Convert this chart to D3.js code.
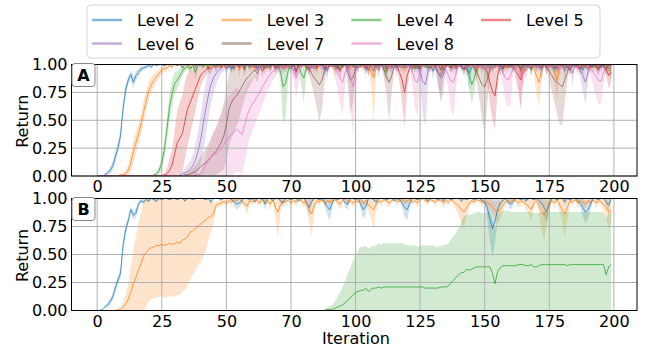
<!DOCTYPE html>
<html>
<head>
<meta charset="utf-8">
<title>return per iteration</title>
<style>
body { margin: 0; background: #fff; }
text { font-family: "DejaVu Sans", sans-serif; font-size: 16px; fill: #000; }
</style>
</head>
<body>
<svg width="647" height="348"></svg>
<script src="https://d3js.org/d3.v7.min.js"></script>
<script>
// tick values and their printed labels (the 75 tick really is labelled "70")
const xTicks = [0, 25, 50, 75, 100, 125, 150, 175, 200];
const xTickLabels = ["0", "25", "50", "70", "100", "125", "150", "175", "200"];
const yTicks = [0, 0.25, 0.5, 0.75, 1];
const levelNames = ["Level 2", "Level 3", "Level 4", "Level 5", "Level 6", "Level 7", "Level 8"];
const levelColors = ["#1f77b4", "#ff7f0e", "#2ca02c", "#d62728", "#9467bd", "#8c564b", "#e377c2"];

// ---- panel A: mean return and std per iteration ----
const a2Mean = [
0,0,0,0.01,0.03,0.05,0.09,0.17,0.25,0.36,
0.6,0.77,0.86,0.91,0.84,0.9,0.93,0.96,0.97,0.98,
0.99,0.98,1,0.99,1,1,0.99,1,1,1,
1,0.99,1,0.97,1,0.99,1,1,0.98,1,
0.99,1,1,0.97,1,1,0.99,1,0.98,1,
1,0.99,0.96,1,1,0.99,1,0.98,1,1,
0.99,1,0.97,1,1,0.98,1,0.99,1,1,
0.97,1,1,0.99,1,0.96,1,1,0.99,1,
1,0.98,1,0.97,1,1,0.99,1,0.95,1,
0.99,1,1,0.97,1,0.99,1,0.98,1,1,
0.98,1,0.99,1,0.96,1,1,0.99,1,0.97,
1,1,0.98,1,0.99,1,0.97,1,1,0.99,
1,0.98,1,1,0.96,1,0.99,1,0.97,1,
0.94,1,0.99,1,0.98,1,1,0.97,1,0.99,
1,0.97,1,0.99,0.92,0.98,1,1,0.98,1,
0.99,1,0.97,1,0.98,1,0.99,0.96,1,1,
0.98,1,0.99,1,0.96,1,1,0.98,1,0.99,
1,0.97,1,0.99,1,0.98,1,0.96,1,1,
0.99,1,0.97,1,0.98,1,0.99,1,0.95,1,
1,0.98,1,0.99,1,0.97,1,0.99,1,0.98];
const a2Sd = [
0,0,0,0.01,0.02,0.03,0.04,0.05,0.05,0.06,
0.06,0.05,0.04,0.04,0.05,0.04,0.03,0.03,0.02,0.02,
0.01,0.02,0,0.01,0,0,0.01,0,0,0,
0,0.01,0,0.03,0,0.01,0,0,0.02,0,
0.01,0,0,0.03,0,0,0.01,0,0.02,0,
0,0.01,0.04,0,0,0.01,0,0.02,0,0,
0.01,0,0.03,0,0,0.02,0,0.01,0,0,
0.03,0,0,0.01,0,0.05,0,0,0.01,0,
0,0.02,0,0.04,0,0,0.01,0,0.06,0,
0.01,0,0,0.03,0,0.01,0,0.02,0,0,
0.02,0,0.01,0,0.05,0,0,0.01,0,0.04,
0,0,0.02,0,0.01,0,0.04,0,0,0.01,
0,0.02,0,0,0.05,0,0.01,0,0.04,0,
0.08,0,0.01,0,0.02,0,0,0.04,0,0.01,
0,0.04,0,0.01,0.15,0.03,0,0,0.02,0,
0.01,0,0.04,0,0.02,0,0.01,0.05,0,0,
0.02,0,0.01,0,0.05,0,0,0.02,0,0.01,
0,0.04,0,0.01,0,0.02,0,0.05,0,0,
0.01,0,0.04,0,0.02,0,0.01,0,0.06,0,
0,0.02,0,0.01,0,0.04,0,0.01,0,0.02];

const a3Mean = [
0,0,0,0,0,0,0,0,0,0.01,
0.01,0.02,0.05,0.12,0.22,0.3,0.38,0.47,0.58,0.68,
0.77,0.82,0.86,0.89,0.92,0.95,0.96,0.97,0.99,0.98,
1,0.99,1,0.98,1,1,0.97,1,0.99,1,
1,0.98,1,0.96,1,0.99,1,1,0.97,1,
0.99,1,1,0.98,1,0.95,1,0.99,1,1,
0.97,1,0.99,1,1,0.98,1,0.96,1,0.99,
1,0.98,1,1,0.97,1,0.99,1,0.98,1,
1,0.97,1,0.99,1,0.96,1,1,0.98,1,
0.99,1,0.95,1,1,0.98,1,0.99,0.97,1,
1,0.98,1,0.97,1,0.99,0.93,0.88,0.97,1,
0.99,1,0.97,1,1,0.98,1,0.99,1,0.96,
1,0.99,1,0.97,1,1,0.98,1,0.99,1,
0.97,1,1,0.98,1,0.99,1,0.96,1,0.98,
1,0.99,1,0.97,1,1,0.98,0.94,1,0.99,
1,0.97,1,0.99,1,0.98,1,1,0.96,1,
0.99,1,0.97,1,0.95,0.92,1,0.99,1,0.97,
0.9,0.84,0.94,1,0.98,1,0.99,0.93,0.86,0.97,
1,0.99,1,0.96,1,0.98,1,0.99,1,0.97,
1,0.98,1,0.97,0.99,1,0.98,1,0.96,1];
const a3Sd = [
0,0,0,0,0,0,0,0,0.01,0.01,
0.02,0.03,0.05,0.08,0.1,0.1,0.1,0.1,0.1,0.09,
0.08,0.07,0.06,0.05,0.04,0.03,0.03,0.03,0.01,0.02,
0,0.01,0,0.02,0,0,0.04,0,0.01,0,
0,0.02,0,0.05,0,0.01,0,0,0.04,0,
0.01,0,0,0.02,0,0.07,0,0.01,0,0,
0.04,0,0.01,0,0,0.02,0,0.05,0,0.01,
0,0.02,0,0,0.04,0,0.01,0,0.02,0,
0,0.04,0,0.01,0,0.06,0,0,0.02,0,
0.01,0,0.07,0,0,0.02,0,0.01,0.04,0,
0,0.02,0,0.04,0,0.01,0.12,0.38,0.04,0,
0.01,0,0.04,0,0,0.02,0,0.01,0,0.05,
0,0.01,0,0.04,0,0,0.02,0,0.01,0,
0.04,0,0,0.02,0,0.01,0,0.05,0,0.02,
0,0.01,0,0.04,0,0,0.02,0.09,0,0.01,
0,0.04,0,0.01,0,0.02,0,0,0.05,0,
0.01,0,0.04,0,0.07,0.12,0,0.01,0,0.04,
0.15,0.22,0.1,0,0.02,0,0.01,0.1,0.18,0.04,
0,0.01,0,0.05,0,0.02,0,0.01,0,0.04,
0,0.02,0,0.04,0.01,0,0.02,0,0.06,0];

const a4Mean = [
0,0,0,0,0,0,0,0,0,0,
0,0,0,0,0,0,0,0,0,0,
0,0,0.01,0.02,0.05,0.12,0.24,0.42,0.62,0.74,
0.83,0.86,0.9,0.94,0.97,0.98,0.96,0.99,0.93,0.99,
1,0.98,1,0.97,1,0.99,1,0.98,1,1,
0.99,1,0.97,1,1,0.98,1,0.99,1,0.97,
1,1,0.98,1,0.99,1,0.97,1,1,0.98,
1,0.93,0.8,0.84,0.95,1,0.99,1,0.98,0.92,
0.88,0.97,1,0.99,1,0.98,1,1,0.97,1,
0.99,1,0.98,1,0.96,1,1,0.99,1,0.98,
1,0.97,1,1,0.99,0.96,1,0.98,1,0.99,
1,0.96,0.93,1,0.99,1,0.97,1,1,0.98,
1,0.99,1,0.96,1,0.98,1,0.99,0.97,1,
1,0.98,1,0.99,0.95,1,1,0.97,1,0.99,
1,0.98,1,0.97,0.9,0.82,0.88,0.97,1,0.99,
1,0.98,1,0.97,1,0.99,1,0.96,1,1,
0.98,1,0.99,1,0.97,1,0.98,1,0.95,1,
0.99,1,0.98,1,0.96,1,1,0.97,1,0.99,
1,0.97,1,0.98,1,0.99,1,0.96,1,0.98,
1,0.99,0.97,1,1,0.98,1,0.99,0.97,0.94];
const a4Sd = [
0,0,0,0,0,0,0,0,0,0,
0,0,0,0,0,0,0,0,0,0,
0,0,0.01,0.02,0.04,0.06,0.08,0.1,0.12,0.12,
0.1,0.08,0.06,0.04,0.03,0.02,0.04,0.02,0.06,0.02,
0,0.02,0,0.04,0,0.01,0,0.02,0,0,
0.01,0,0.04,0,0,0.02,0,0.01,0,0.04,
0,0,0.02,0,0.01,0,0.04,0,0,0.02,
0,0.1,0.34,0.3,0.06,0,0.01,0,0.03,0.12,
0.22,0.04,0,0.01,0,0.02,0,0,0.04,0,
0.01,0,0.02,0,0.05,0,0,0.01,0,0.02,
0,0.04,0,0,0.01,0.05,0,0.02,0,0.01,
0,0.05,0.09,0,0.01,0,0.04,0,0,0.02,
0,0.01,0,0.05,0,0.02,0,0.01,0.04,0,
0,0.02,0,0.01,0.06,0,0,0.04,0,0.01,
0,0.02,0,0.04,0.12,0.17,0.12,0.04,0,0.01,
0,0.02,0,0.04,0,0.01,0,0.05,0,0,
0.02,0,0.01,0,0.04,0,0.02,0,0.06,0,
0.01,0,0.02,0,0.05,0,0,0.04,0,0.01,
0,0.04,0,0.02,0,0.01,0,0.05,0,0.02,
0,0.01,0.04,0,0,0.02,0,0.01,0.04,0.07];

const a5Mean = [
0,0,0,0,0,0,0,0,0,0,
0,0,0,0,0,0,0,0,0,0,
0,0,0,0,0,0,0.01,0.02,0.05,0.1,
0.2,0.3,0.34,0.38,0.5,0.6,0.66,0.72,0.78,0.84,
0.9,0.93,0.95,0.97,0.96,0.99,0.97,1,0.98,1,
0.96,1,0.99,0.97,1,0.98,1,0.95,1,0.99,
1,0.97,1,0.99,0.94,1,0.98,1,1,0.96,
1,0.99,1,0.97,1,0.98,1,0.93,1,0.99,
1,0.98,0.95,1,1,0.97,1,0.99,1,0.96,
1,0.98,1,0.99,0.94,1,1,0.97,1,0.99,
0.97,1,0.98,1,0.99,0.95,1,1,0.98,1,
0.99,1,0.96,1,0.98,1,0.99,0.93,0.86,0.75,
0.9,0.97,1,0.98,1,0.96,1,0.99,1,0.97,
1,0.98,1,0.95,1,0.99,1,0.97,1,0.98,
1,0.99,0.96,1,0.98,1,1,0.97,1,0.99,
0.97,0.93,0.84,0.76,0.72,0.9,1,0.98,1,0.97,
1,0.99,0.94,0.9,0.86,0.96,1,0.98,1,0.99,
0.97,1,0.98,1,0.96,1,0.99,1,0.97,1,
0.98,1,0.99,0.95,1,0.98,1,0.96,1,0.99,
1,0.97,1,0.98,0.95,1,0.99,0.96,0.9,0.93];
const a5Sd = [
0,0,0,0,0,0,0,0,0,0,
0,0,0,0,0,0,0,0,0,0,
0,0,0,0,0,0.01,0.02,0.05,0.1,0.15,
0.22,0.28,0.32,0.34,0.34,0.32,0.28,0.24,0.2,0.15,
0.1,0.07,0.05,0.04,0.05,0.02,0.04,0,0.02,0,
0.05,0,0.01,0.03,0,0.02,0,0.06,0,0.01,
0,0.04,0,0.01,0.07,0,0.02,0,0,0.05,
0,0.01,0,0.04,0,0.02,0,0.08,0,0.01,
0,0.02,0.06,0,0,0.04,0,0.01,0,0.05,
0,0.02,0,0.01,0.07,0,0,0.04,0,0.01,
0.04,0,0.02,0,0.01,0.06,0,0,0.02,0,
0.01,0,0.05,0,0.02,0,0.01,0.09,0.2,0.31,
0.12,0.04,0,0.02,0,0.05,0,0.01,0,0.04,
0,0.02,0,0.06,0,0.01,0,0.04,0,0.02,
0,0.01,0.05,0,0.02,0,0,0.04,0,0.01,
0.04,0.09,0.18,0.26,0.31,0.12,0,0.02,0,0.04,
0,0.01,0.08,0.14,0.27,0.05,0,0.02,0,0.01,
0.04,0,0.02,0,0.05,0,0.01,0,0.04,0,
0.02,0,0.01,0.06,0,0.02,0,0.05,0,0.01,
0,0.04,0,0.02,0.06,0,0.01,0.05,0.12,0.08];

const a6Mean = [
0,0,0,0,0,0,0,0,0,0,
0,0,0,0,0,0,0,0,0,0,
0,0,0,0,0,0,0,0,0,0,
0,0,0.01,0.02,0.03,0.04,0.06,0.09,0.14,0.22,
0.32,0.46,0.6,0.72,0.82,0.88,0.92,0.95,0.97,0.98,
0.99,0.97,1,0.96,1,0.99,1,0.97,1,0.98,
1,0.99,0.95,1,0.98,1,1,0.97,1,0.99,
0.96,1,0.98,1,0.99,1,0.95,1,0.98,1,
0.99,1,0.97,1,0.96,1,0.99,1,0.98,0.94,
1,0.99,1,0.97,1,0.98,1,0.96,1,0.99,
1,0.97,1,0.99,0.96,1,0.98,1,0.99,0.95,
1,0.98,1,0.99,0.96,1,1,0.98,1,0.97,
1,0.99,0.96,1,0.98,0.94,0.85,0.82,0.93,1,
0.99,0.97,0.92,0.88,0.9,0.98,1,0.99,0.96,1,
0.98,1,0.99,0.95,1,1,0.97,1,0.99,0.96,
1,0.98,1,0.97,0.99,1,0.95,1,0.98,1,
0.99,0.96,1,0.98,1,0.99,0.94,1,0.97,1,
1,0.98,0.95,1,0.99,1,0.97,1,0.96,1,
0.99,0.94,1,0.98,0.92,1,0.99,0.95,0.9,0.84,
0.93,1,0.98,1,0.96,0.99,1,0.97,1,0.98];
const a6Sd = [
0,0,0,0,0,0,0,0,0,0,
0,0,0,0,0,0,0,0,0,0,
0,0,0,0,0,0,0,0,0,0,
0,0,0.01,0.02,0.04,0.06,0.08,0.1,0.14,0.18,
0.22,0.24,0.24,0.22,0.18,0.14,0.1,0.07,0.05,0.04,
0.01,0.03,0,0.04,0,0.01,0,0.03,0,0.02,
0,0.01,0.06,0,0.02,0,0,0.04,0,0.01,
0.05,0,0.02,0,0.01,0,0.07,0,0.02,0,
0.01,0,0.04,0,0.05,0,0.01,0,0.02,0.08,
0,0.01,0,0.04,0,0.02,0,0.05,0,0.01,
0,0.04,0,0.01,0.06,0,0.02,0,0.01,0.07,
0,0.02,0,0.01,0.05,0,0,0.02,0,0.04,
0,0.01,0.05,0,0.02,0.1,0.3,0.38,0.12,0,
0.01,0.04,0.12,0.22,0.16,0.02,0,0.01,0.05,0,
0.02,0,0.01,0.07,0,0,0.04,0,0.01,0.05,
0,0.02,0,0.04,0.01,0,0.06,0,0.02,0,
0.01,0.05,0,0.02,0,0.01,0.08,0,0.04,0,
0,0.02,0.07,0,0.01,0,0.04,0,0.05,0,
0.01,0.08,0,0.02,0.12,0,0.01,0.07,0.14,0.2,
0.1,0,0.02,0,0.05,0.01,0,0.04,0,0.02];

const a7Mean = [
0,0,0,0,0,0,0,0,0,0,
0,0,0,0,0,0,0,0,0,0,
0,0,0,0,0,0,0,0,0,0,
0,0,0,0,0.01,0.01,0.02,0.03,0.04,0.06,
0.08,0.1,0.12,0.14,0.17,0.2,0.22,0.26,0.3,0.36,
0.46,0.6,0.66,0.7,0.72,0.76,0.8,0.84,0.88,0.9,
0.93,0.95,0.92,0.97,0.99,0.96,1,0.98,1,0.97,
1,0.99,0.96,1,0.98,1,0.99,0.95,1,0.98,
1,0.99,0.96,0.92,0.88,0.85,0.82,0.86,0.94,1,
0.98,1,0.99,0.96,1,0.98,1,0.93,0.86,0.88,
0.96,1,0.99,1,0.97,1,0.98,0.94,1,0.99,
1,0.95,0.89,0.84,0.9,0.98,1,0.99,0.97,1,
0.98,1,0.97,1,0.99,0.96,1,0.98,1,0.97,
1,0.99,0.93,0.9,0.95,1,0.98,1,0.99,0.96,
1,0.98,0.95,1,0.99,1,0.97,0.93,0.87,0.82,
0.8,0.87,0.95,1,0.98,1,0.99,0.96,1,0.98,
1,0.97,1,0.99,0.95,1,0.98,1,0.96,1,
0.99,1,0.97,1,0.98,0.94,0.9,0.86,0.84,0.82,
0.8,0.86,0.93,1,0.99,1,0.97,1,0.98,1,
0.96,1,0.99,1,0.97,1,0.98,0.95,1,0.99];
const a7Sd = [
0,0,0,0,0,0,0,0,0,0,
0,0,0,0,0,0,0,0,0,0,
0,0,0,0,0,0,0,0,0,0,
0,0,0,0,0.01,0.02,0.03,0.04,0.05,0.07,
0.09,0.11,0.13,0.15,0.17,0.19,0.21,0.23,0.26,0.3,
0.32,0.33,0.32,0.3,0.27,0.24,0.2,0.16,0.12,0.1,
0.08,0.06,0.08,0.04,0.02,0.05,0,0.03,0,0.04,
0,0.01,0.05,0,0.02,0,0.01,0.06,0,0.02,
0,0.01,0.05,0.1,0.16,0.24,0.34,0.26,0.1,0,
0.02,0,0.01,0.05,0,0.02,0,0.12,0.3,0.22,
0.06,0,0.01,0,0.04,0,0.02,0.08,0,0.01,
0,0.07,0.16,0.36,0.14,0.02,0,0.01,0.04,0,
0.02,0,0.04,0,0.01,0.05,0,0.02,0,0.04,
0,0.01,0.12,0.2,0.08,0,0.02,0,0.01,0.05,
0,0.02,0.06,0,0.01,0,0.04,0.1,0.2,0.32,
0.42,0.22,0.06,0,0.02,0,0.01,0.05,0,0.02,
0,0.04,0,0.01,0.06,0,0.02,0,0.05,0,
0.01,0,0.04,0,0.02,0.08,0.14,0.2,0.28,0.36,
0.34,0.2,0.08,0,0.01,0,0.04,0,0.02,0,
0.05,0,0.01,0,0.04,0,0.02,0.06,0,0.01];

const a8Mean = [
0,0,0,0,0,0,0,0,0,0,
0,0,0,0,0,0,0,0,0,0,
0,0,0,0,0,0,0,0,0,0,
0,0,0,0,0,0,0,0,0.01,0.01,
0.02,0.05,0.1,0.14,0.17,0.19,0.2,0.22,0.25,0.28,
0.32,0.35,0.37,0.4,0.42,0.4,0.37,0.45,0.54,0.6,
0.64,0.68,0.72,0.75,0.8,0.84,0.88,0.91,0.94,0.95,
0.97,0.96,0.99,0.97,1,0.98,0.95,0.88,0.94,1,
0.99,1,0.97,1,0.98,1,0.99,0.96,1,0.98,
1,0.99,0.96,0.92,0.88,0.84,0.93,1,0.9,0.8,
0.92,1,0.98,1,0.99,0.96,1,0.98,1,0.97,
1,0.99,1,0.96,1,0.98,0.95,1,0.99,1,
0.97,1,0.93,0.86,0.84,0.94,1,0.99,1,0.98,
1,0.97,1,0.99,1,0.95,0.9,0.85,0.84,0.93,
1,0.98,1,0.97,1,0.99,1,0.96,1,0.98,
1,0.99,0.96,1,0.98,1,0.97,0.93,0.88,0.86,
0.9,0.97,1,0.94,0.88,0.95,1,0.98,1,0.99,
0.97,1,0.99,1,0.96,1,0.98,1,0.99,0.95,
1,0.98,1,0.97,1,0.99,0.96,1,0.98,1,
0.99,0.96,0.93,0.9,0.86,0.85,0.92,1,0.98,0.95];
const a8Sd = [
0,0,0,0,0,0,0,0,0,0,
0,0,0,0,0,0,0,0,0,0,
0,0,0,0,0,0,0,0,0,0,
0,0,0,0,0,0,0,0,0.01,0.01,
0.02,0.04,0.08,0.12,0.15,0.2,0.24,0.28,0.31,0.34,
0.36,0.37,0.37,0.38,0.38,0.37,0.36,0.34,0.3,0.26,
0.24,0.22,0.2,0.18,0.16,0.14,0.12,0.1,0.08,0.06,
0.04,0.05,0.02,0.04,0,0.03,0.08,0.18,0.1,0.02,
0.01,0,0.05,0,0.02,0,0.01,0.06,0,0.03,
0,0.02,0.07,0.14,0.22,0.3,0.12,0,0.25,0.44,
0.2,0,0.02,0,0.01,0.06,0,0.03,0,0.04,
0,0.01,0,0.05,0,0.02,0.07,0,0.01,0,
0.04,0,0.12,0.26,0.3,0.1,0,0.01,0,0.03,
0,0.05,0,0.01,0,0.07,0.14,0.26,0.3,0.12,
0,0.02,0,0.04,0,0.01,0,0.05,0,0.02,
0,0.01,0.05,0,0.02,0,0.05,0.1,0.2,0.24,
0.26,0.04,0,0.1,0.28,0.08,0,0.02,0,0.01,
0.04,0,0.01,0,0.06,0,0.02,0,0.01,0.07,
0,0.02,0,0.05,0,0.01,0.06,0,0.02,0,
0.01,0.06,0.12,0.18,0.22,0.2,0.1,0,0.02,0.06];

// ---- panel B ----
const b2Mean = [
0,0,0.01,0.03,0.05,0.08,0.12,0.2,0.27,0.33,
0.58,0.72,0.8,0.9,0.85,0.87,0.95,0.98,0.97,0.99,
0.98,1,0.99,0.98,1,0.99,1,1,0.99,1,
1,0.99,1,1,0.98,1,1,0.99,1,1,
1,1,0.99,1,0.97,1,1,1,0.99,1,
1,1,0.99,0.97,0.95,0.96,0.98,1,1,0.99,
1,0.97,1,1,0.99,0.95,1,1,0.98,1,
1,0.98,0.96,1,1,0.99,1,1,0.98,1,
1,0.96,0.92,0.97,1,1,0.99,1,0.97,0.93,
0.9,0.96,1,0.99,1,1,0.96,0.95,1,1,
0.99,1,0.95,0.9,0.93,1,1,0.99,0.97,1,
1,1,0.99,1,1,0.98,1,0.99,0.96,0.92,
0.9,0.96,1,1,0.99,1,1,1,0.98,1,
1,1,0.99,1,0.98,1,1,0.99,1,1,
1,0.98,1,0.99,1,1,0.99,1,1,0.98,
0.97,0.92,0.82,0.73,0.8,0.9,0.96,0.98,1,0.97,
0.95,0.97,1,1,0.99,1,0.98,1,1,0.99,
1,0.98,0.96,0.92,0.88,0.94,1,1,0.99,1,
1,0.97,1,0.99,1,1,0.98,0.96,0.92,0.88,
0.9,0.95,1,1,0.99,1,1,0.97,0.94,1];
const b2Sd = [
0,0,0,0.01,0.02,0.03,0.03,0.04,0.04,0.05,
0.05,0.05,0.04,0.03,0.04,0.04,0.03,0.02,0.02,0.01,
0.02,0,0.01,0.02,0,0.01,0,0,0.01,0,
0,0.01,0,0,0.02,0,0,0.01,0,0,
0,0,0.01,0,0.03,0,0,0,0.01,0,
0,0,0.01,0.03,0.05,0.04,0.02,0,0,0.01,
0,0.03,0,0,0.01,0.05,0,0,0.02,0,
0,0.02,0.04,0,0,0.01,0,0,0.02,0,
0,0.04,0.08,0.03,0,0,0.01,0,0.03,0.07,
0.1,0.04,0,0.01,0,0,0.04,0.05,0,0,
0.01,0,0.05,0.08,0.07,0,0,0.01,0.03,0,
0,0,0.01,0,0,0.02,0,0.01,0.04,0.08,
0.09,0.04,0,0,0.01,0,0,0,0.02,0,
0,0,0.01,0,0.02,0,0,0.01,0,0,
0,0.02,0,0.01,0,0,0.01,0,0,0.02,
0.03,0.1,0.2,0.26,0.2,0.1,0.04,0.02,0,0.03,
0.05,0.03,0,0,0.01,0,0.02,0,0,0.01,
0,0.02,0.04,0.08,0.1,0.06,0,0,0.01,0,
0,0.03,0,0.01,0,0,0.02,0.04,0.08,0.1,
0.08,0.05,0,0,0.01,0,0,0.03,0.06,0];

const b3Mean = [
0,0,0,0,0,0,0,0,0.01,0.01,
0.03,0.06,0.1,0.16,0.24,0.3,0.36,0.42,0.49,0.52,
0.55,0.56,0.57,0.58,0.58,0.59,0.58,0.59,0.6,0.59,
0.6,0.61,0.6,0.63,0.64,0.66,0.7,0.71,0.73,0.75,
0.77,0.79,0.81,0.83,0.84,0.86,0.94,0.95,0.96,0.97,
0.96,0.98,0.97,0.99,0.98,1,0.97,0.96,0.93,0.98,
0.97,0.99,0.98,0.96,1,0.97,0.98,0.95,0.99,0.92,
0.88,0.95,0.98,0.97,0.99,0.96,0.98,0.97,1,0.98,
0.96,0.97,0.9,0.86,0.94,0.98,0.97,0.99,0.96,0.98,
0.97,0.98,0.99,0.97,0.95,0.98,1,0.97,0.98,0.96,
0.98,0.97,0.99,0.96,0.98,0.94,0.92,0.9,0.95,0.98,
0.97,0.99,0.98,0.96,0.98,1,0.97,0.98,0.99,0.97,
0.98,0.99,0.97,0.98,0.96,0.99,1,0.98,0.97,0.99,
0.98,0.97,0.99,0.98,0.96,0.98,0.97,0.99,0.97,0.95,
0.93,0.9,0.88,0.92,0.96,0.98,0.97,0.99,0.98,0.97,
0.98,0.96,0.95,0.92,0.9,0.88,0.9,0.94,0.97,0.98,
0.97,0.99,0.98,0.96,0.98,0.97,0.95,0.93,0.9,0.96,
0.98,0.94,0.88,0.85,0.9,0.97,0.98,0.96,0.99,0.94,
0.9,0.86,0.92,0.98,0.97,0.99,0.96,0.98,0.97,0.95,
0.98,0.97,0.99,0.96,0.98,0.97,0.95,0.92,0.88,0.9];
const b3Sd = [
0,0,0,0,0,0,0,0,0.01,0.01,
0.04,0.08,0.14,0.22,0.3,0.36,0.42,0.46,0.49,0.48,
0.47,0.46,0.46,0.46,0.46,0.46,0.47,0.47,0.47,0.47,
0.47,0.47,0.46,0.46,0.45,0.44,0.42,0.39,0.37,0.35,
0.35,0.32,0.28,0.2,0.14,0.1,0.03,0.03,0.03,0.02,
0.03,0.02,0.03,0.01,0.02,0,0.03,0.04,0.07,0.02,
0.03,0.01,0.02,0.04,0,0.03,0.02,0.05,0.01,0.1,
0.24,0.06,0.02,0.03,0.01,0.04,0.02,0.03,0,0.02,
0.04,0.03,0.1,0.2,0.06,0.02,0.03,0.01,0.04,0.02,
0.03,0.02,0.01,0.03,0.05,0.02,0,0.03,0.02,0.04,
0.02,0.03,0.01,0.04,0.02,0.06,0.1,0.17,0.05,0.02,
0.03,0.01,0.02,0.04,0.02,0,0.03,0.02,0.01,0.03,
0.02,0.01,0.03,0.02,0.04,0.01,0,0.02,0.03,0.01,
0.02,0.03,0.01,0.02,0.04,0.02,0.03,0.01,0.03,0.05,
0.08,0.12,0.15,0.08,0.04,0.02,0.03,0.01,0.02,0.03,
0.02,0.04,0.05,0.06,0.07,0.1,0.08,0.06,0.03,0.02,
0.03,0.01,0.02,0.04,0.02,0.03,0.05,0.07,0.1,0.04,
0.02,0.06,0.16,0.22,0.14,0.03,0.02,0.04,0.01,0.06,
0.1,0.22,0.1,0.02,0.03,0.01,0.04,0.02,0.03,0.05,
0.02,0.03,0.01,0.04,0.02,0.03,0.05,0.1,0.15,0.1];

const b4Mean = [
0,0,0,0,0,0,0,0,0,0,
0,0,0,0,0,0,0,0,0,0,
0,0,0,0,0,0,0,0,0,0,
0,0,0,0,0,0,0,0,0,0,
0,0,0,0,0,0,0,0,0,0,
0,0,0,0,0,0,0,0,0,0,
0,0,0,0,0,0,0,0,0,0,
0,0,0,0,0,0,0,0,0,0,
0,0,0,0,0,0,0,0,0,0.01,
0.01,0.01,0.02,0.03,0.04,0.05,0.07,0.09,0.11,0.14,
0.16,0.17,0.18,0.18,0.2,0.17,0.19,0.2,0.2,0.21,
0.2,0.21,0.21,0.21,0.21,0.21,0.21,0.21,0.21,0.21,
0.21,0.21,0.21,0.21,0.21,0.21,0.21,0.2,0.2,0.2,
0.2,0.2,0.2,0.21,0.21,0.21,0.22,0.25,0.27,0.3,
0.32,0.34,0.34,0.37,0.36,0.37,0.38,0.39,0.39,0.39,
0.39,0.39,0.39,0.33,0.24,0.35,0.38,0.4,0.4,0.4,
0.4,0.4,0.4,0.41,0.41,0.41,0.4,0.4,0.41,0.39,
0.39,0.4,0.41,0.41,0.41,0.41,0.41,0.41,0.41,0.41,
0.41,0.41,0.4,0.41,0.41,0.41,0.41,0.41,0.41,0.41,
0.41,0.41,0.41,0.41,0.41,0.41,0.41,0.32,0.39,0.41];
const b4Sd = [
0,0,0,0,0,0,0,0,0,0,
0,0,0,0,0,0,0,0,0,0,
0,0,0,0,0,0,0,0,0,0,
0,0,0,0,0,0,0,0,0,0,
0,0,0,0,0,0,0,0,0,0,
0,0,0,0,0,0,0,0,0,0,
0,0,0,0,0,0,0,0,0,0,
0,0,0,0,0,0,0,0,0,0,
0,0,0,0,0,0,0,0,0.01,0.02,
0.03,0.04,0.06,0.09,0.12,0.16,0.2,0.24,0.27,0.3,
0.33,0.37,0.39,0.39,0.38,0.38,0.38,0.38,0.38,0.39,
0.39,0.39,0.39,0.39,0.39,0.39,0.39,0.39,0.39,0.38,
0.37,0.37,0.37,0.37,0.36,0.37,0.37,0.38,0.38,0.38,
0.38,0.37,0.37,0.37,0.37,0.38,0.38,0.39,0.39,0.4,
0.42,0.46,0.5,0.49,0.49,0.49,0.49,0.49,0.49,0.48,
0.48,0.49,0.49,0.48,0.48,0.49,0.5,0.49,0.49,0.49,
0.48,0.48,0.48,0.47,0.47,0.47,0.48,0.48,0.47,0.48,
0.48,0.47,0.47,0.47,0.47,0.47,0.47,0.47,0.47,0.47,
0.47,0.47,0.48,0.47,0.47,0.47,0.47,0.47,0.47,0.47,
0.47,0.47,0.47,0.47,0.47,0.47,0.47,0.5,0.48,0.47];

const panelA = [a2Mean, a3Mean, a4Mean, a5Mean, a6Mean, a7Mean, a8Mean].map((m, k) => ({
    name: levelNames[k], color: levelColors[k], mean: m,
    sd: [a2Sd, a3Sd, a4Sd, a5Sd, a6Sd, a7Sd, a8Sd][k]
}));
const panelB = [[b2Mean, b2Sd], [b3Mean, b3Sd], [b4Mean, b4Sd]].map((p, k) => ({
    name: levelNames[k], color: levelColors[k], mean: p[0], sd: p[1]
}));

const svg = d3.select("svg");
const x = d3.scaleLinear().domain([-9.95, 208.95]).range([71.5, 637]);
const left = 71.5, right = 637;

function drawPanel(letter, series, top, bottom) {
    const y = d3.scaleLinear().domain([0, 1]).range([bottom, top]);
    const g = svg.append("g");
    const clipId = "clip" + letter;
    svg.append("clipPath").attr("id", clipId)
        .append("rect").attr("x", left).attr("y", top)
        .attr("width", right - left).attr("height", bottom - top);

    // std bands
    const bands = g.append("g").attr("clip-path", `url(#${clipId})`);
    series.forEach(s => {
        const area = d3.area()
            .x((d, i) => x(i))
            .y0((d, i) => y(d - s.sd[i]))
            .y1((d, i) => y(d + s.sd[i]));
        bands.append("path").datum(s.mean)
            .attr("d", area)
            .attr("fill", s.color)
            .attr("fill-opacity", 0.22);
    });

    // grid
    g.append("g").selectAll("line").data(xTicks).join("line")
        .attr("x1", d => x(d)).attr("x2", d => x(d))
        .attr("y1", top).attr("y2", bottom)
        .attr("stroke", "#b0b0b0").attr("stroke-width", 1);
    g.append("g").selectAll("line").data(yTicks).join("line")
        .attr("x1", left).attr("x2", right)
        .attr("y1", d => y(d)).attr("y2", d => y(d))
        .attr("stroke", "#b0b0b0").attr("stroke-width", 1);

    // mean lines
    const lines = g.append("g").attr("clip-path", `url(#${clipId})`);
    series.forEach(s => {
        lines.append("path").datum(s.mean)
            .attr("d", d3.line().x((d, i) => x(i)).y(d => y(d)))
            .attr("fill", "none")
            .attr("stroke", s.color)
            .attr("stroke-width", 1)
            .attr("stroke-opacity", 0.75);
    });

    // frame
    g.append("rect").attr("x", left).attr("y", top)
        .attr("width", right - left).attr("height", bottom - top)
        .attr("fill", "none").attr("stroke", "#000").attr("stroke-width", 1);

    // axes
    const xAxis = g.append("g").attr("transform", `translate(0,${bottom})`)
        .call(d3.axisBottom(x).tickValues(xTicks)
            .tickFormat((d, i) => xTickLabels[i]).tickSize(0).tickPadding(5));
    const yAxis = g.append("g").attr("transform", `translate(${left},0)`)
        .call(d3.axisLeft(y).tickValues(yTicks)
            .tickFormat(d3.format(".2f")).tickSize(0).tickPadding(4));
    [xAxis, yAxis].forEach(a => {
        a.select(".domain").remove();
        a.selectAll("text").attr("font-size", 16)
            .attr("font-family", "DejaVu Sans, sans-serif").attr("fill", "#000");
    });

    g.append("text")
        .attr("transform", `translate(28,${(top + bottom) / 2 + 1}) rotate(-90)`)
        .attr("text-anchor", "middle")
        .text("Return");

    // panel letter
    g.append("rect").attr("x", 72).attr("y", top - 1)
        .attr("width", 23).attr("height", 23).attr("rx", 3)
        .attr("fill", "#fff").attr("stroke", "#888").attr("stroke-width", 1);
    g.append("text").attr("x", 83.5).attr("y", top + 16.5)
        .attr("text-anchor", "middle").attr("font-weight", "bold")
        .text(letter);
}

drawPanel("A", panelA, 64.5, 176);
drawPanel("B", panelB, 198.5, 310.5);

svg.append("text").attr("x", 356).attr("y", 344)
    .attr("text-anchor", "middle").attr("font-size", 17)
    .text("Iteration");

// legend
const legend = svg.append("g");
legend.append("rect").attr("x", 87).attr("y", 5).attr("width", 513).attr("height", 53)
    .attr("rx", 4).attr("fill", "#fff").attr("stroke", "#d6d6d6").attr("stroke-width", 1);
levelNames.forEach((name, k) => {
    const col = k % 4, row = Math.floor(k / 4);
    const lx = 92 + col * 129.7, ly = 20 + row * 23.5;
    legend.append("line").attr("x1", lx).attr("x2", lx + 30)
        .attr("y1", ly).attr("y2", ly)
        .attr("stroke", levelColors[k]).attr("stroke-width", 2.5).attr("stroke-opacity", 0.55);
    legend.append("text").attr("x", lx + 45).attr("y", ly + 6)
        .text(name);
});
</script>
</body>
</html>
